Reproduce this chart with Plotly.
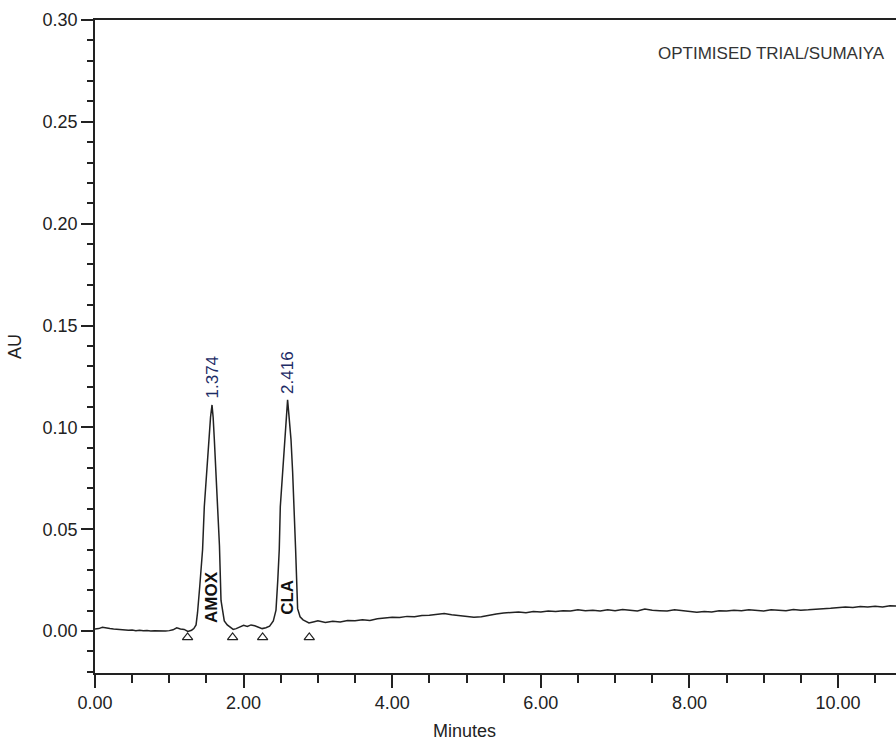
import plotly.graph_objects as go

# ---- data ----
time_min = [
    0.00, 0.05, 0.10, 0.15, 0.20, 0.25, 0.30, 0.35, 0.40, 0.45, 0.50, 0.55, 0.60, 0.65,
    0.70, 0.75, 0.80, 0.85, 0.90, 0.95, 1.00, 1.05, 1.10, 1.15, 1.20, 1.25, 1.30, 1.33,
    1.36, 1.38, 1.41, 1.448, 1.471, 1.502, 1.529, 1.555, 1.575, 1.590, 1.606, 1.629,
    1.650, 1.675, 1.696, 1.72, 1.74, 1.78, 1.83, 1.86, 1.90, 1.95, 2.00, 2.05, 2.10,
    2.15, 2.20, 2.25, 2.30, 2.35, 2.40, 2.436, 2.46, 2.480, 2.494, 2.525, 2.548, 2.570,
    2.592, 2.610, 2.638, 2.660, 2.682, 2.700, 2.727, 2.76, 2.80, 2.84, 2.88, 2.95, 3.00,
    3.1, 3.2, 3.3, 3.4, 3.5, 3.6, 3.7, 3.8, 3.9, 4.0, 4.1, 4.2, 4.3, 4.4, 4.5, 4.6, 4.7,
    4.8, 4.9, 5.0, 5.1, 5.2, 5.3, 5.4, 5.5, 5.6, 5.7, 5.8, 5.9, 6.0, 6.1, 6.2, 6.3, 6.4,
    6.5, 6.6, 6.7, 6.8, 6.9, 7.0, 7.1, 7.2, 7.3, 7.4, 7.5, 7.6, 7.7, 7.8, 7.9, 8.0, 8.1,
    8.2, 8.3, 8.4, 8.5, 8.6, 8.7, 8.8, 8.9, 9.0, 9.1, 9.2, 9.3, 9.4, 9.5, 9.6, 9.7, 9.8,
    9.9, 10.0, 10.1, 10.2, 10.3, 10.4, 10.5, 10.6, 10.7, 10.8, 10.9,
]
absorbance_au = [
    0.0010, 0.0012, 0.0018, 0.0014, 0.0012, 0.0010, 0.0008, 0.0009, 0.0006, 0.0004, 0.0005,
    0.0002, 0.0004, 0.0001, 0.0003, 0.0000, 0.0002, 0.0001, 0.0003, 0.0000, 0.0002, 0.0006,
    0.0016, 0.0010, 0.0008, -0.0002, 0.0004, 0.0012, 0.0030, 0.0090, 0.0220, 0.0400, 0.0610,
    0.0780, 0.0940, 0.1050, 0.1110, 0.1050, 0.0940, 0.0780, 0.0610, 0.0420, 0.0150, 0.0080,
    0.0050, 0.0030, 0.0015, 0.0008, 0.0012, 0.0020, 0.0028, 0.0022, 0.0030, 0.0026, 0.0020,
    0.0012, 0.0016, 0.0024, 0.0050, 0.0103, 0.0250, 0.0400, 0.0610, 0.0780, 0.0940, 0.1060,
    0.1135, 0.1060, 0.0940, 0.0780, 0.0610, 0.0400, 0.0110, 0.0070, 0.0055, 0.0046, 0.0040,
    0.0046, 0.0050,
    0.0042, 0.0048, 0.0044, 0.0052, 0.0050, 0.0056, 0.0052, 0.0060, 0.0064, 0.0068, 0.0066,
    0.0072, 0.0070, 0.0076, 0.0078, 0.0082, 0.0086, 0.0080, 0.0076, 0.0072, 0.0068, 0.0070,
    0.0078, 0.0084, 0.0088, 0.0092, 0.0094, 0.0090, 0.0096, 0.0094, 0.0098, 0.0096, 0.0100,
    0.0098, 0.0104, 0.0100, 0.0102, 0.0098, 0.0104, 0.0100, 0.0106, 0.0102, 0.0098, 0.0108,
    0.0102, 0.0100, 0.0098, 0.0104, 0.0100, 0.0096, 0.0092, 0.0096, 0.0094, 0.0100, 0.0098,
    0.0102, 0.0100, 0.0104, 0.0100, 0.0098, 0.0104, 0.0102, 0.0100, 0.0106, 0.0102, 0.0104,
    0.0108, 0.0110, 0.0112, 0.0114, 0.0118, 0.0116, 0.0120, 0.0118, 0.0122, 0.0118, 0.0124,
    0.0122, 0.0120,
]

# integration marks (peak start / end)
integration_times = [1.246, 1.852, 2.256, 2.884]
integration_au = [-0.0031, -0.0031, -0.0031, -0.0031]

# peaks
peak_times = [1.575, 2.592]
peak_heights = [0.1110, 0.1135]
peak_rt_labels = ["1.374", "2.416"]
peak_names = ["AMOX", "CLA"]

x_tick_vals = [0, 2, 4, 6, 8, 10]
x_tick_text = ["0.00", "2.00", "4.00", "6.00", "8.00", "10.00"]
y_tick_vals = [0.00, 0.05, 0.10, 0.15, 0.20, 0.25, 0.30]
y_tick_text = ["0.00", "0.05", "0.10", "0.15", "0.20", "0.25", "0.30"]

sample_name = "OPTIMISED TRIAL/SUMAIYA"

FONT = "Liberation Sans, Arial, sans-serif"
INK = "#222222"

fig = go.Figure()
fig.add_trace(go.Scatter(
    x=time_min, y=absorbance_au, mode="lines",
    line=dict(color=INK, width=1.5, shape="linear"),
    hoverinfo="skip", showlegend=False,
))
fig.add_trace(go.Scatter(
    x=integration_times, y=integration_au, mode="markers",
    marker=dict(symbol="triangle-up-open", size=9, color=INK, line=dict(width=1.2, color=INK)),
    hoverinfo="skip", showlegend=False,
))

name_label_bottoms = [0.003, 0.007]
for t, h, rt, nm, nb in zip(peak_times, peak_heights, peak_rt_labels, peak_names, name_label_bottoms):
    fig.add_annotation(
        x=t, y=h, xref="x", yref="y", text=rt, textangle=-90, showarrow=False,
        xanchor="center", yanchor="bottom", yshift=4,
        font=dict(family=FONT, size=17, color="#1d2c66"),
    )
    fig.add_annotation(
        x=t, y=nb, xref="x", yref="y", text="<b>" + nm + "</b>", textangle=-90, showarrow=False,
        xanchor="center", yanchor="bottom",
        font=dict(family=FONT, size=17, color="#111111"),
    )

fig.add_annotation(
    x=887, y=53.7, xref="paper", yref="paper", text=sample_name, showarrow=False,
)
# position sample name in pixels via paper coords
plot_w = 896 - 95
plot_h = 740 - 20 - 67
fig.layout.annotations[-1].update(
    x=(887 - 95) / plot_w, y=1 - (53.7 - 20) / plot_h, xanchor="right", yanchor="middle",
    font=dict(family=FONT, size=17, color="#333333"),
)
fig.add_annotation(
    x=(464 - 95) / plot_w, y=-(731 - 673) / plot_h, xref="paper", yref="paper",
    text="Minutes", showarrow=False, xanchor="center", yanchor="middle",
    font=dict(family=FONT, size=18, color=INK),
)

fig.update_layout(
    width=896, height=740,
    margin=dict(l=95, r=0, t=20, b=67, pad=0),
    paper_bgcolor="white", plot_bgcolor="white",
    font=dict(family=FONT, size=18, color=INK),
    xaxis=dict(
        range=[0, plot_w / 74.3], showgrid=False, zeroline=False,
        showline=True, linecolor=INK, linewidth=1.5, mirror=True,
        tickmode="array", tickvals=x_tick_vals, ticktext=x_tick_text,
        ticks="outside", ticklen=13, tickwidth=1.5, tickcolor=INK,
        tickfont=dict(family=FONT, size=18, color=INK),
        minor=dict(ticks="outside", ticklen=8, tickwidth=1.5, tickcolor=INK, dtick=0.5, tick0=0),
    ),
    yaxis=dict(
        range=[-0.0206, 0.30], showgrid=False, zeroline=False,
        showline=True, linecolor=INK, linewidth=1.5, mirror=False,
        tickmode="array", tickvals=y_tick_vals, ticktext=y_tick_text,
        ticks="outside", ticklen=12, tickwidth=1.5, tickcolor=INK,
        tickfont=dict(family=FONT, size=18, color=INK),
        minor=dict(ticks="outside", ticklen=6, tickwidth=1.5, tickcolor=INK, dtick=0.01, tick0=0),
        title=dict(text="AU", font=dict(family=FONT, size=18, color=INK), standoff=16),
    ),
)

fig.write_html("out.html")
